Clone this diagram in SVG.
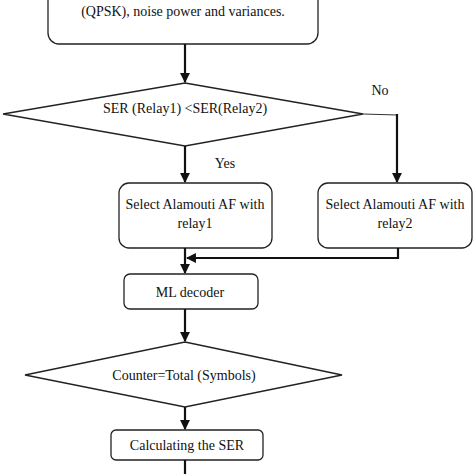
<svg xmlns="http://www.w3.org/2000/svg" width="474" height="474" viewBox="0 0 474 474">
<style>
.box{fill:#fff;stroke:#222;stroke-width:1.3}
.t{font-family:"Liberation Serif","Times New Roman",serif;font-size:14px;fill:#111;text-anchor:middle}
.c{stroke:#111;stroke-width:2.2;fill:none}
.thin{stroke:#333;stroke-width:1.2;fill:none}
</style>
<defs>
<marker id="ah" viewBox="0 0 10 10" refX="9" refY="5" markerWidth="4.5" markerHeight="4.5" orient="auto" markerUnits="strokeWidth">
<path d="M0,0 L10,5 L0,10 z" fill="#111"/>
</marker>
</defs>
<rect width="474" height="474" fill="#fff"/>
<g id="start">
<rect class="box" x="48" y="-30" width="270" height="74" rx="11"/>
<text class="t" x="183" y="16">(QPSK), noise power and variances.</text>
</g>
<g id="decision1">
<polygon class="box" points="185,83 363,114 185,146 3,114"/>
<text class="t" x="185" y="113">SER (Relay1) &lt;SER(Relay2)</text>
</g>
<g id="relay1">
<rect class="box" x="119" y="183" width="153" height="65" rx="10"/>
<text class="t" x="195" y="209">Select Alamouti AF with</text>
<text class="t" x="195" y="228">relay1</text>
</g>
<g id="relay2">
<rect class="box" x="318" y="183" width="154" height="65" rx="10"/>
<text class="t" x="395" y="209">Select Alamouti AF with</text>
<text class="t" x="395" y="228">relay2</text>
</g>
<g id="ml">
<rect class="box" x="124" y="274" width="134" height="35" rx="6"/>
<text class="t" x="190" y="297">ML decoder</text>
</g>
<g id="decision2">
<polygon class="box" points="185,342 342,375 185,407 25,375"/>
<text class="t" x="184" y="380">Counter=Total (Symbols)</text>
</g>
<g id="calc">
<rect class="box" x="111" y="430" width="152" height="30" rx="5"/>
<text class="t" x="187" y="450">Calculating the SER</text>
</g>
<g id="labels">
<text class="t" x="380" y="95">No</text>
<text class="t" x="225" y="168">Yes</text>
</g>
<g id="connectors">
<line class="c" x1="185" y1="44" x2="185" y2="82" marker-end="url(#ah)"/>
<polyline class="thin" points="363,114 397,115"/>
<line class="c" x1="397" y1="114" x2="397" y2="182" marker-end="url(#ah)"/>
<line class="c" x1="185" y1="146" x2="185" y2="182" marker-end="url(#ah)"/>
<polyline class="c" points="398,248 398,258 187,258" marker-end="url(#ah)"/>
<line class="c" x1="185" y1="248" x2="185" y2="273" marker-end="url(#ah)"/>
<line class="c" x1="185" y1="309" x2="185" y2="341" marker-end="url(#ah)"/>
<line class="c" x1="185" y1="407" x2="185" y2="429" marker-end="url(#ah)"/>
<line class="c" x1="185" y1="460" x2="185" y2="474"/>
</g>
</svg>
